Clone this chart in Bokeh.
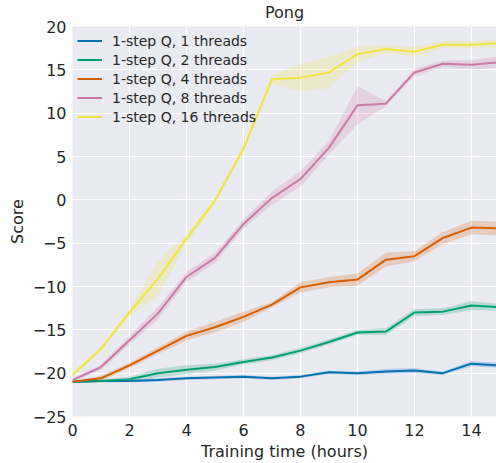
from bokeh.plotting import figure
from bokeh.models import Range1d, CustomJSTickFormatter, Legend, LegendItem, FixedTicker
from bokeh.embed import file_html
from bokeh.resources import INLINE

hours = list(range(16))
labels = ["1-step Q, 1 threads", "1-step Q, 2 threads", "1-step Q, 4 threads",
          "1-step Q, 8 threads", "1-step Q, 16 threads"]
colors = ["#0072B2", "#009E73", "#D55E00", "#CC79A7", "#F0E442"]
title_text = "Pong"

score_1 = [-21.0, -20.9, -20.9, -20.8, -20.6, -20.5, -20.4, -20.6, -20.4, -19.9, -20.0, -19.8, -19.7, -20.0, -18.9, -19.1]
score_2 = [-21.0, -20.9, -20.7, -20.0, -19.6, -19.3, -18.7, -18.2, -17.4, -16.4, -15.3, -15.2, -13.0, -12.9, -12.2, -12.4]
score_4 = [-21.0, -20.6, -19.1, -17.4, -15.7, -14.7, -13.5, -12.1, -10.1, -9.5, -9.2, -6.9, -6.5, -4.4, -3.2, -3.3]
score_8 = [-20.8, -19.3, -16.2, -13.1, -8.9, -6.7, -2.8, 0.2, 2.4, 6.0, 10.9, 11.1, 14.7, 15.7, 15.6, 15.9]
score_16 = [-20.2, -17.2, -13.0, -9.1, -4.5, -0.1, 5.9, 13.9, 14.1, 14.7, 16.8, 17.4, 17.1, 17.9, 17.9, 18.1]

spread_1 = [0.1, 0.1, 0.15, 0.2, 0.2, 0.2, 0.2, 0.2, 0.2, 0.2, 0.2, 0.3, 0.3, 0.2, 0.3, 0.3]
spread_2 = [0.1, 0.2, 0.3, 0.5, 0.5, 0.4, 0.3, 0.3, 0.3, 0.3, 0.3, 0.4, 0.4, 0.4, 0.5, 0.4]
spread_4 = [0.1, 0.3, 0.3, 0.4, 0.5, 0.6, 0.6, 0.3, 0.6, 0.6, 0.7, 0.8, 0.6, 0.7, 0.8, 0.8]
spread_8 = [0.2, 0.3, 0.5, 0.7, 0.6, 0.6, 0.5, 0.8, 0.9, 0.8, 2.2, 0.3, 0.4, 0.4, 0.5, 0.7]
spread_16 = [0.2, 0.3, 0.4, 2.0, 0.5, 0.4, 0.4, 0.5, 1.6, 1.8, 0.9, 0.4, 0.6, 0.4, 0.4, 0.4]

series = [score_1, score_2, score_4, score_8, score_16]
spreads = [spread_1, spread_2, spread_4, spread_8, spread_16]

FONT = "DejaVu Sans"
TXT = "#262626"

p = figure(width=496, height=463, output_backend="svg", toolbar_location=None,
           x_range=Range1d(0, 14.88), y_range=Range1d(-25, 20),
           min_border_left=72, min_border_right=0, min_border_top=26, min_border_bottom=47)

p.title.text = title_text
p.title.align = "center"
p.title.vertical_align = "top"
p.title.text_font = FONT
p.title.text_font_size = "16px"
p.title.text_font_style = "normal"
p.title.text_color = TXT
p.title.offset = 0
p.title.standoff = 5

p.background_fill_color = "#EAEAF2"
p.border_fill_color = "white"
p.outline_line_color = None
p.grid.grid_line_color = "white"
p.grid.grid_line_width = 1.2

p.xaxis.ticker = FixedTicker(ticks=[0, 2, 4, 6, 8, 10, 12, 14])
p.yaxis.ticker = FixedTicker(ticks=[-25, -20, -15, -10, -5, 0, 5, 10, 15, 20])
fmt = CustomJSTickFormatter(code="return tick < 0 ? '\u2212' + Math.abs(tick) : String(tick);")
p.yaxis.formatter = fmt
p.xaxis.formatter = fmt

for ax in (p.xaxis[0], p.yaxis[0]):
    ax.axis_line_color = None
    ax.major_tick_line_color = None
    ax.minor_tick_line_color = None
    ax.major_tick_in = 0
    ax.major_tick_out = 0
    ax.minor_tick_in = 0
    ax.minor_tick_out = 0
    ax.major_label_text_font = FONT
    ax.major_label_text_font_size = "16px"
    ax.major_label_text_color = TXT
    ax.axis_label_text_font = FONT
    ax.axis_label_text_font_size = "16px"
    ax.axis_label_text_font_style = "normal"
    ax.axis_label_text_color = TXT
p.xaxis.axis_label = "Training time (hours)"
p.yaxis.axis_label = "Score"
p.xaxis.major_label_standoff = 7
p.yaxis.major_label_standoff = 6
p.xaxis.axis_label_standoff = 3
p.yaxis.axis_label_standoff = 3

items = []
for vals, spr, col, lab in zip(series, spreads, colors, labels):
    lo = [v - s for v, s in zip(vals, spr)]
    hi = [v + s for v, s in zip(vals, spr)]
    p.varea(x=hours, y1=lo, y2=hi, fill_color=col, fill_alpha=0.22)
for vals, col, lab in zip(series, colors, labels):
    r = p.line(hours, vals, line_color=col, line_width=2)
    items.append(LegendItem(label=lab, renderers=[r]))

legend = Legend(items=items, location="top_left")
legend.background_fill_alpha = 0
legend.border_line_color = None
legend.label_text_font = FONT
legend.label_text_font_size = "14px"
legend.label_text_color = TXT
legend.glyph_width = 25
legend.label_standoff = 10
legend.spacing = 0
legend.label_height = 19
legend.glyph_height = 19
legend.padding = 7
legend.margin = 5
p.add_layout(legend)

open("out.html", "w").write(file_html(p, INLINE))
